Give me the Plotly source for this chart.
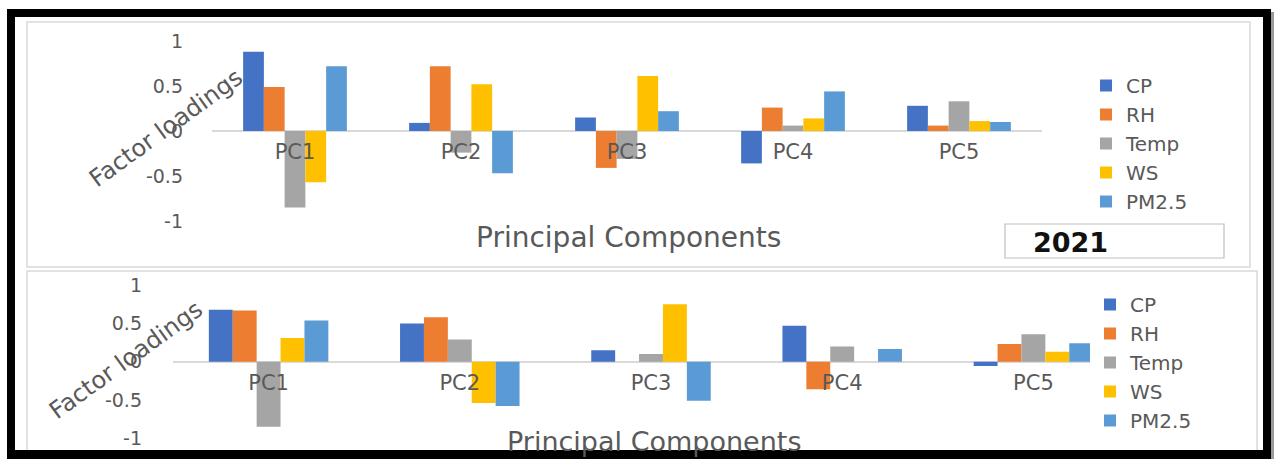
import plotly.graph_objects as go

categories = ["PC1", "PC2", "PC3", "PC4", "PC5"]
series_names = ["CP", "RH", "Temp", "WS", "PM2.5"]
colors = ["#4472C4", "#ED7D31", "#A5A5A5", "#FFC000", "#5B9BD5"]

# Top panel (2021)
top_cp = [0.88, 0.09, 0.15, -0.36, 0.28]
top_rh = [0.49, 0.72, -0.41, 0.26, 0.06]
top_temp = [-0.85, -0.24, -0.31, 0.06, 0.33]
top_ws = [-0.57, 0.52, 0.61, 0.14, 0.11]
top_pm = [0.72, -0.47, 0.22, 0.44, 0.10]

# Bottom panel
bot_cp = [0.68, 0.50, 0.15, 0.47, -0.055]
bot_rh = [0.67, 0.58, 0.0, -0.36, 0.23]
bot_temp = [-0.85, 0.29, 0.10, 0.20, 0.36]
bot_ws = [0.31, -0.54, 0.75, 0.0, 0.13]
bot_pm = [0.54, -0.58, -0.51, 0.165, 0.24]

y_tickvals = [-1, -0.5, 0, 0.5, 1]
y_ticktext = ["-1", "-0.5", "0", "0.5", "1"]

W, H = 1274, 459
FONT = "DejaVu Sans"
GRAY = "#595959"

def px(x):
    return x / W

def py(y):
    return 1 - y / H

fig = go.Figure()

top_series = [top_cp, top_rh, top_temp, top_ws, top_pm]
bot_series = [bot_cp, bot_rh, bot_temp, bot_ws, bot_pm]

for name, col, vals in zip(series_names, colors, top_series):
    fig.add_trace(go.Bar(x=categories, y=vals, name=name, marker_color=col,
                         marker_line_width=0, xaxis="x", yaxis="y",
                         legend="legend"))
for name, col, vals in zip(series_names, colors, bot_series):
    fig.add_trace(go.Bar(x=categories, y=vals, name=name, marker_color=col,
                         marker_line_width=0, xaxis="x2", yaxis="y2",
                         legend="legend2"))

# geometry (pixels)
top_y0, top_y1, top_zero = 41, 221, 131
bot_y0, bot_y1, bot_zero = 285.2, 438.2, 361.7

xaxis_common = dict(type="category", showgrid=False, ticks="", anchor="free",
                    showline=False, layer="above traces", ticklabelstandoff=6,
                    automargin=False,
                    tickfont=dict(family=FONT, size=21, color=GRAY), fixedrange=True)
yaxis_common = dict(range=[-1, 1], tickvals=y_tickvals, ticktext=y_ticktext,
                    showgrid=False, zeroline=True, zerolinecolor="#d9d9d9", zerolinewidth=1.5,
                    showline=False, ticks="", automargin=False,
                    tickfont=dict(family=FONT, size=19, color=GRAY), fixedrange=True)

legend_font = dict(family=FONT, size=20, color=GRAY)

fig.update_layout(
    width=W, height=H,
    margin=dict(l=0, r=0, t=0, b=0, pad=0, autoexpand=False),
    paper_bgcolor="white", plot_bgcolor="rgba(0,0,0,0)",
    barmode="group", bargap=0.375, bargroupgap=0,
    showlegend=True,
    font=dict(family=FONT, color=GRAY),
    xaxis=dict(domain=[px(212), px(1042)], position=py(top_zero), **xaxis_common),
    yaxis=dict(domain=[py(top_y1), py(top_y0)], anchor="x", ticklabelstandoff=28, **yaxis_common),
    xaxis2=dict(domain=[px(173), px(1129)], position=py(bot_zero), **xaxis_common),
    yaxis2=dict(domain=[py(bot_y1), py(bot_y0)], anchor="x2", ticklabelstandoff=30, **yaxis_common),
    legend=dict(x=px(1086), y=py(66), xanchor="left", yanchor="top",
                font=legend_font, bgcolor="rgba(0,0,0,0)"),
    legend2=dict(x=px(1090), y=py(285), xanchor="left", yanchor="top",
                 font=legend_font, bgcolor="white"),
)

shapes = [
    # panel borders
    dict(type="rect", xref="paper", yref="paper", x0=px(27), x1=px(1250), y0=py(267), y1=py(22),
         line=dict(color="#d9d9d9", width=1.5), layer="below"),
    dict(type="rect", xref="paper", yref="paper", x0=px(27), x1=px(1257), y0=py(470), y1=py(271),
         line=dict(color="#d9d9d9", width=1.5), layer="below"),
    # 2021 box
    dict(type="rect", xref="paper", yref="paper", x0=px(1005), x1=px(1224), y0=py(258), y1=py(224),
         line=dict(color="#bfbfbf", width=1.2), fillcolor="white", layer="above"),
    # shadow on right
    dict(type="line", xref="paper", yref="paper", x0=px(1272.5), x1=px(1272.5), y0=py(460), y1=py(12),
         line=dict(color="#9a9a9a", width=3), layer="above"),
    # outer black frame
    dict(type="rect", xref="paper", yref="paper", x0=px(11), x1=px(1267), y0=py(455), y1=py(13),
         line=dict(color="black", width=8), layer="above"),
    dict(type="line", xref="paper", yref="paper", x0=px(7), x1=px(1271), y0=py(456), y1=py(456),
         line=dict(color="black", width=12), layer="above"),
]
fig.update_layout(shapes=shapes)

annotations = [
    dict(text="Factor loadings", xref="paper", yref="paper", x=px(166), y=py(128),
         showarrow=False, textangle=-36, font=dict(family=FONT, size=24, color=GRAY),
         xanchor="center", yanchor="middle"),
    dict(text="Factor loadings", xref="paper", yref="paper", x=px(126), y=py(360),
         showarrow=False, textangle=-36, font=dict(family=FONT, size=24, color=GRAY),
         xanchor="center", yanchor="middle"),
    dict(text="Principal Components", xref="paper", yref="paper", x=px(628), y=py(237),
         showarrow=False, font=dict(family=FONT, size=28, color=GRAY),
         xanchor="center", yanchor="middle"),
    dict(text="Principal Components", xref="paper", yref="paper", x=px(654), y=py(441),
         showarrow=False, font=dict(family=FONT, size=27, color=GRAY),
         xanchor="center", yanchor="middle"),
    dict(text="<b>2021</b>", xref="paper", yref="paper", x=px(1031), y=py(242),
         showarrow=False, font=dict(family=FONT, size=27, color="#111111"),
         xanchor="left", yanchor="middle"),
]
fig.update_layout(annotations=annotations)

fig.write_html("out.html")
